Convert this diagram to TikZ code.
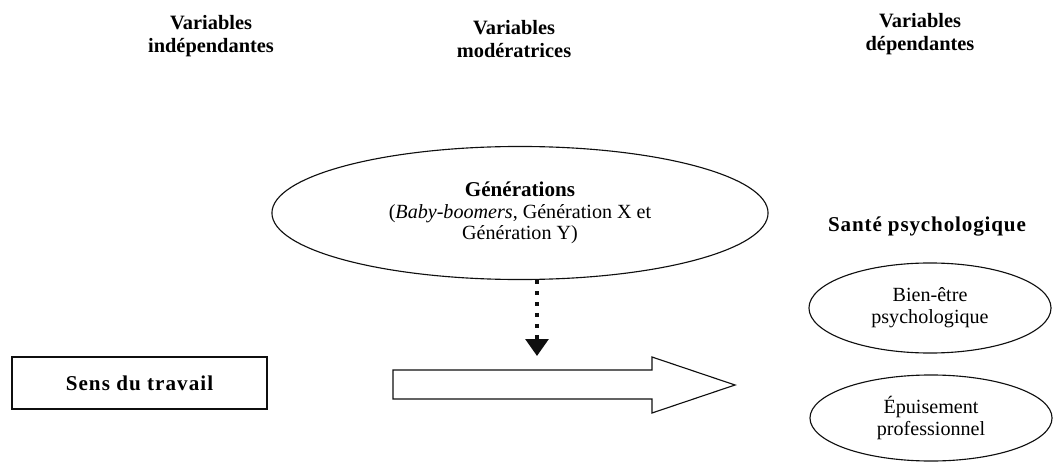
\documentclass[tikz,border=0pt]{standalone}
\usepackage{fontspec}
\setmainfont{Liberation Serif}
\usetikzlibrary{arrows.meta,shapes.geometric}
\definecolor{LineClr}{RGB}{15,15,15}
\tikzset{
  hdr/.style={align=center,font=\fontsize{14.5}{16.5}\selectfont\bfseries},
  oval/.style={ellipse,draw=LineClr,line width=0.8pt,inner sep=0pt,align=center,font=\fontsize{14.3}{15.5}\selectfont},
  varbox/.style={draw=LineClr,line width=0.8pt,minimum width=6.375cm,minimum height=1.3cm,font=\fontsize{15}{17}\selectfont\bfseries\addfontfeature{LetterSpace=5}},
  modarrow/.style={LineClr,line width=2.8pt,dash pattern=on 2.8pt off 5pt,-{Triangle[length=12pt,width=16pt]}},
  bigarrow/.style={draw=LineClr,line width=0.8pt,line join=miter}
}

\begin{document}
\begin{tikzpicture}[x=0.025cm,y=-0.025cm]
\useasboundingbox (0,0) rectangle (1053,466);

% column headers
\node[hdr] (indep) at (211,36) {Variables\\indépendantes};
\node[hdr] (moder) at (514,39) {Variables\\modératrices};
\node[hdr] (depen) at (920,34) {Variables\\dépendantes};

% moderator
\node[oval,minimum width=12.4cm,minimum height=3.325cm] (gen) at (520,213)
  {\textbf{\fontsize{15}{15.5}\selectfont Générations}\\(\textit{Baby-boomers}, Génération X et\\Génération Y)};
\coordinate (modtip) at (537,356);
\draw[modarrow] (gen.south -| modtip) -- (modtip);

% independent variable
\node[varbox] (sens) at (139.5,383) {Sens du travail};

% main effect
\draw[bigarrow] (393,370) -- (652,370) -- (652,357) -- (735,385)
  -- (652,413) -- (652,399) -- (393,399) -- cycle;

% dependent variables
\node[font=\fontsize{15}{17}\selectfont\bfseries\addfontfeature{LetterSpace=4}] (sante) at (927,226) {Santé psychologique};
\node[oval,minimum width=6.05cm,minimum height=2.25cm] (bien) at (930,308) {Bien-être\\psychologique};
\node[oval,minimum width=6.05cm,minimum height=2.15cm] (epuis) at (931,418) {Épuisement\\professionnel};

\end{tikzpicture}
\end{document}
